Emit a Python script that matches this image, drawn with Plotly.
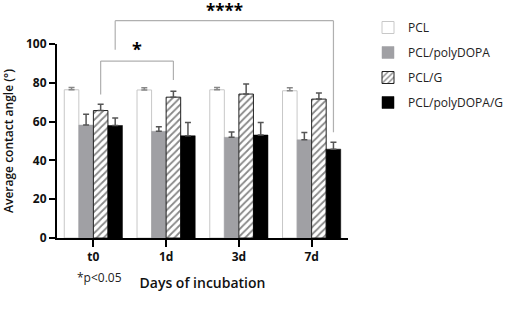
import plotly.graph_objects as go

days = ["t0", "1d", "3d", "7d"]
series_names = ["PCL", "PCL/polyDOPA", "PCL/G", "PCL/polyDOPA/G"]
pcl = [76.4, 76.3, 76.4, 75.9]
pcl_err = [1.2, 1.2, 1.2, 1.6]
pdopa = [58.2, 55.0, 51.9, 50.6]
pdopa_err = [5.6, 2.3, 2.7, 3.8]
pclg = [65.7, 72.6, 74.2, 71.6]
pclg_err = [3.2, 3.0, 5.2, 3.1]
pdopag = [58.0, 52.7, 53.1, 45.8]
pdopag_err = [3.8, 6.8, 6.4, 3.5]
y_ticks = [0, 20, 40, 60, 80, 100]

FONT = "Open Sans"
fig = go.Figure()

styles = [
    dict(color="white", line=dict(color="#c8c8c8", width=1)),
    dict(color="#a0a0a4", line=dict(color="#a0a0a4", width=0.5)),
    dict(color="white", line=dict(color="#222", width=1),
         pattern=dict(shape="/", fgcolor="#111", bgcolor="white", size=5, solidity=0.35)),
    dict(color="black", line=dict(color="black", width=0.5)),
]
vals = [pcl, pdopa, pclg, pdopag]
errs = [pcl_err, pdopa_err, pclg_err, pdopag_err]
ecol = ["#888", "#555", "#555", "#555"]
for i in range(4):
    fig.add_trace(go.Bar(
        x=days, y=vals[i], name=series_names[i], marker=styles[i],
        legendgroup=str(i),
        error_y=dict(type="data", array=errs[i], arrayminus=[0]*4, symmetric=False,
                     color=ecol[i], thickness=1.5, width=3),
    ))

# bar centre offsets (4 bars, bargap 0.2 -> width 0.2 each)
off = [-0.3, -0.1, 0.1, 0.3]
gray = "#b0b0b0"
def bracket(x0, x1, ytop, yl, yr):
    fig.add_shape(type="line", xref="x", yref="paper", x0=x0, x1=x1, y0=ytop/100, y1=ytop/100,
                  line=dict(color=gray, width=1.2))
    fig.add_shape(type="line", xref="x", yref="paper", x0=x0, x1=x0, y0=ytop/100, y1=yl/100,
                  line=dict(color=gray, width=1.2))
    fig.add_shape(type="line", xref="x", yref="paper", x0=x1, x1=x1, y0=ytop/100, y1=yr/100,
                  line=dict(color=gray, width=1.2))

bracket(0 + off[2], 1 + off[2], 91.2, 74, 81.5)
bracket(0 + off[3], 3 + off[3], 112, 97, 54.5)
fig.add_annotation(x=(off[2] + 1 + off[2]) / 2, y=0.975, xref="x", yref="paper", text="*",
                   showarrow=False, yanchor="middle",
                   font=dict(family=FONT, size=18, color="black", weight="bold"))
fig.add_annotation(x=(off[3] + 3 + off[3]) / 2, y=1.175, xref="x", yref="paper", text="****",
                   showarrow=False, yanchor="middle",
                   font=dict(family=FONT, size=17, color="black", weight="bold"))
fig.add_annotation(x=(75 - 57) / 291, y=(238 - 277) / 194, xref="paper", yref="paper",
                   text="*p&lt;0.05", showarrow=False, xanchor="left", yanchor="middle",
                   font=dict(family=FONT, size=12, color="#222"))

fig.update_layout(
    width=505, height=333,
    margin=dict(l=57, r=157, t=44, b=95, autoexpand=False),
    paper_bgcolor="white", plot_bgcolor="white",
    barmode="group", bargap=0.2, bargroupgap=0,
    font=dict(family=FONT, color="#111"),
    showlegend=True,
    legend=dict(x=(368 - 57) / 291, y=(238 - 13) / 194, xanchor="left", yanchor="top",
                font=dict(family=FONT, size=12, color="#222"), tracegroupgap=6,
                bgcolor="rgba(0,0,0,0)"),
    xaxis=dict(showline=True, linecolor="black", linewidth=2, ticks="outside", ticklen=7,
               tickwidth=2, tickcolor="black", showgrid=False, automargin=False,
               tickfont=dict(family=FONT, size=12, color="#111", weight="bold"),
               title=dict(text="Days of incubation", standoff=14,
                          font=dict(family=FONT, size=14, color="#111", weight=600))),
    yaxis=dict(range=[0, 100], tickvals=y_ticks, showline=True, linecolor="black", linewidth=2,
               ticks="outside", ticklen=6, tickwidth=2, tickcolor="black", showgrid=False,
               zeroline=False, automargin=False,
               tickfont=dict(family=FONT, size=12, color="#111", weight="bold"),
               title=dict(text="Average contact angle (°)", standoff=10,
                          font=dict(family=FONT, size=12, color="#111", weight=600))),
)
fig.write_html("out.html", config={"displayModeBar": False},
               post_script="document.body.style.margin='0';")
